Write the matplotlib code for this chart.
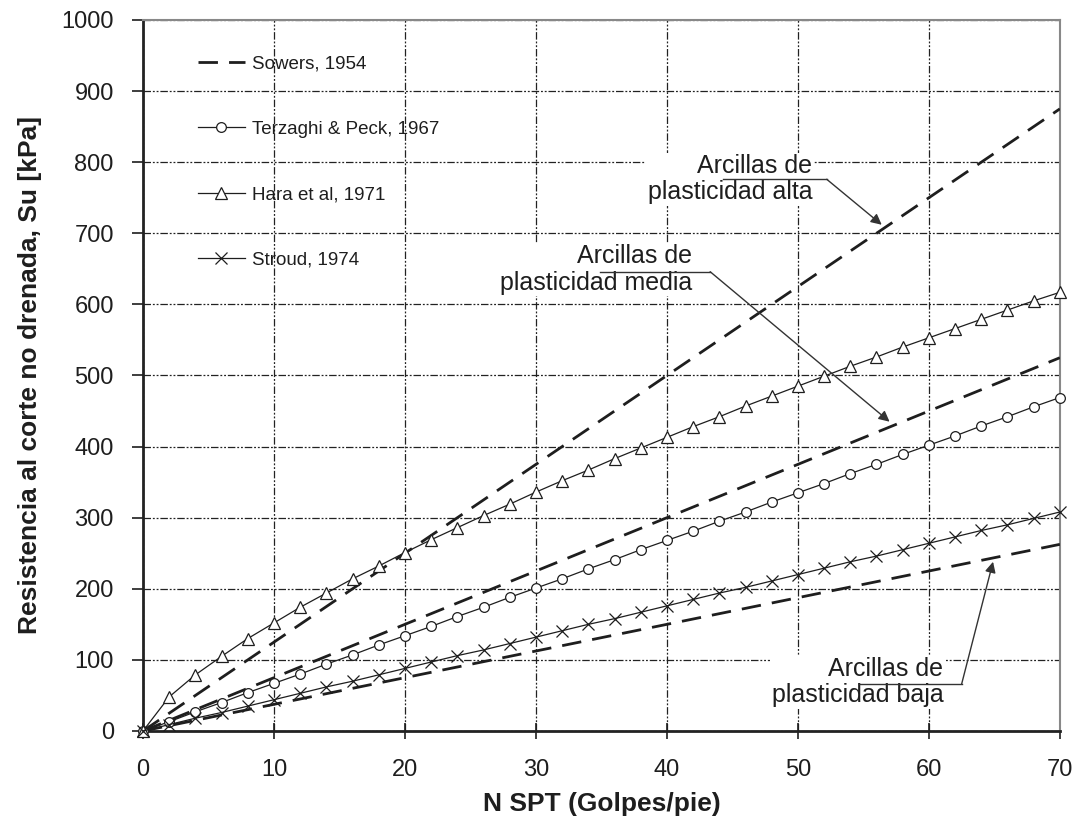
import matplotlib
matplotlib.use('Agg')
import matplotlib.pyplot as plt

plt.rcParams['font.family'] = ['Liberation Sans', 'DejaVu Sans']

# N SPT values where the markers sit
n_spt = [0, 2, 4, 6, 8, 10, 12, 14, 16, 18, 20, 22, 24, 26, 28, 30, 32, 34,
         36, 38, 40, 42, 44, 46, 48, 50, 52, 54, 56, 58, 60, 62, 64, 66, 68, 70]

terzaghi = [0, 13, 27, 40, 54, 67, 80, 94, 107, 121, 134, 147, 161, 174, 188, 201,
            214, 228, 241, 255, 268, 281, 295, 308, 322, 335, 348, 362, 375, 389,
            402, 415, 429, 442, 456, 469]
hara = [0, 48, 79, 105, 130, 152, 174, 194, 214, 232, 251, 269, 286, 303, 319, 336,
        352, 367, 383, 398, 413, 428, 442, 457, 471, 485, 499, 513, 526, 540,
        553, 566, 579, 592, 605, 617]
stroud = [0, 9, 18, 26, 35, 44, 53, 62, 70, 79, 88, 97, 106, 114, 123, 132,
          141, 150, 158, 167, 176, 185, 194, 202, 211, 220, 229, 238, 246, 255,
          264, 273, 282, 290, 299, 308]

# Sowers (1954) straight lines, one per plasticity
sowers_n = [0, 70]
sowers_alta = [0, 875]
sowers_media = [0, 525]
sowers_baja = [0, 262.5]

ann_lines = ['Arcillas de\nplasticidad alta',
             'Arcillas de\nplasticidad media',
             'Arcillas de\nplasticidad baja']

INK = '#1e1e1e'

fig = plt.figure(figsize=(10.76, 8.23), dpi=100)
ax = fig.add_axes([0.1329, 0.1118, 0.8521, 0.8639])

# grid, dash-dot-dot look
ax.set_axisbelow(True)
ax.grid(True, color='#222222', lw=0.9, dashes=(6, 1.5, 1.5, 1.5, 1.5, 1.5))

dash = (7, 4)
ax.plot(sowers_n, sowers_alta, color=INK, lw=2.0, dashes=dash, label='Sowers, 1954', zorder=3)
ax.plot(sowers_n, sowers_media, color=INK, lw=2.0, dashes=dash, zorder=3)
ax.plot(sowers_n, sowers_baja, color=INK, lw=2.0, dashes=dash, zorder=3)

ax.plot(n_spt, terzaghi, color=INK, lw=0.9, marker='o', ms=7, mfc='white',
        mec=INK, mew=0.9, label='Terzaghi & Peck, 1967', zorder=4, clip_on=False)
ax.plot(n_spt, hara, color=INK, lw=0.9, marker='^', ms=8, mfc='white',
        mec=INK, mew=0.9, label='Hara et al, 1971', zorder=4, clip_on=False)
ax.plot(n_spt, stroud, color=INK, lw=0.9, marker='x', ms=8,
        mec=INK, mew=0.9, label='Stroud, 1974', zorder=4, clip_on=False)

# annotations: (text right edge x, text y), leader start x, leader end x, leader y, arrow tip
ann_pos = [
    ((51.1, 776), 44.3, 52.2, 776, (56.4, 712)),
    ((41.9, 649), 34.9, 43.3, 646, (57.0, 435)),
    ((61.1, 69), 54.7, 62.5, 66, (64.9, 238)),
]
for txt, (tpos, x0, x1, ly, tip) in zip(ann_lines, ann_pos):
    ax.text(tpos[0], tpos[1], txt, ha='right', va='center', fontsize=18,
            color=INK, linespacing=1.12, zorder=5,
            bbox=dict(facecolor='white', edgecolor='none', pad=1))
    ax.plot([x0, x1], [ly, ly], color='#333333', lw=1.0, zorder=6)
    ax.annotate('', xy=tip, xytext=(x1, ly),
                arrowprops=dict(arrowstyle='-|>', color='#333333', lw=1.0,
                                mutation_scale=16, shrinkA=0, shrinkB=0),
                zorder=6)

ax.set_xlim(0, 70)
ax.set_ylim(0, 1000)
ax.set_xticks(range(0, 71, 10))
ax.set_yticks(range(0, 1001, 100))

ax.tick_params(axis='x', direction='inout', length=12, width=1.2, pad=14,
               labelsize=17, colors=INK)
ax.tick_params(axis='y', direction='out', length=8, width=1.2, pad=13,
               labelsize=17, colors=INK)

for side in ['left', 'bottom']:
    ax.spines[side].set_linewidth(2.0)
    ax.spines[side].set_color('#222222')
for side in ['top', 'right']:
    ax.spines[side].set_linewidth(1.5)
    ax.spines[side].set_color('#888888')

ax.set_xlabel('N SPT (Golpes/pie)', fontsize=19, fontweight='bold', color=INK, labelpad=8)
ax.set_ylabel('Resistencia al corte no drenada, Su [kPa]', fontsize=19,
              fontweight='bold', color=INK, labelpad=14)

leg = ax.legend(loc='upper left', bbox_to_anchor=(198 / 1076, 1 - 55 / 823),
                bbox_transform=fig.transFigure, frameon=False, fontsize=13.5,
                handlelength=2.5, handletextpad=0.4, labelspacing=2.58,
                borderpad=0, borderaxespad=0, numpoints=1)
for t in leg.get_texts():
    t.set_color(INK)

fig.savefig('out.png', dpi=100, facecolor='white')
